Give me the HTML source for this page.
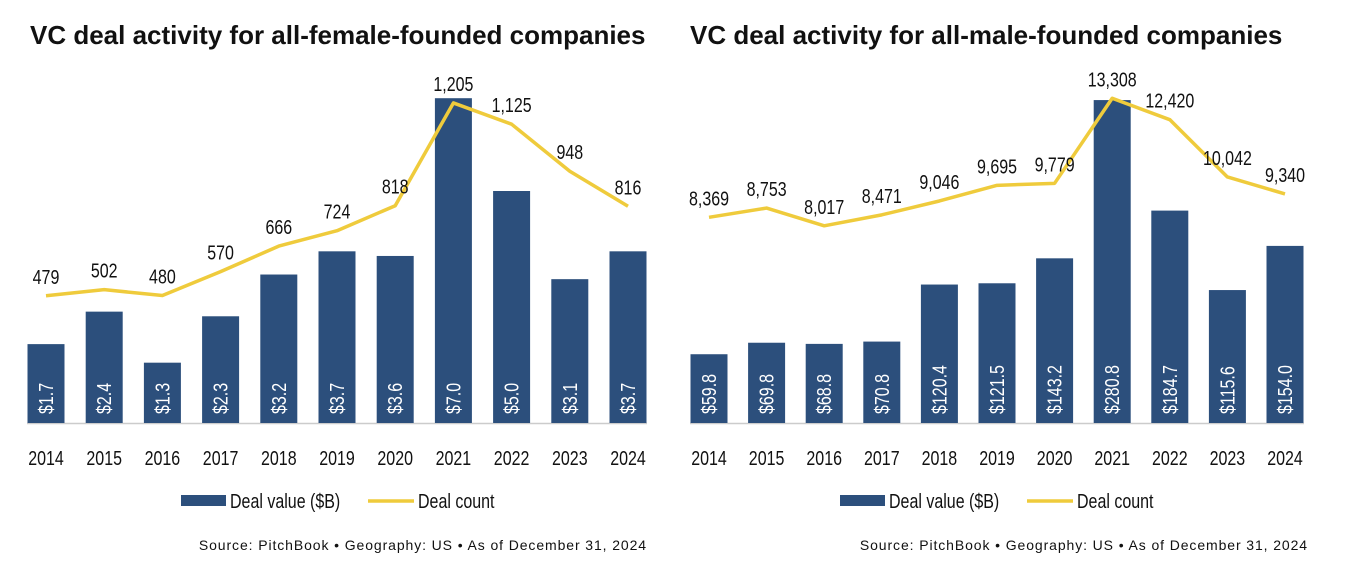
<!DOCTYPE html>
<html><head><meta charset="utf-8">
<style>
body{margin:0;background:#fff;width:1352px;height:576px;overflow:hidden}
svg{display:block}
.t{font-family:"Liberation Sans",sans-serif;font-weight:bold;font-size:26px;fill:#111}
.n{font-family:"Liberation Sans",sans-serif;font-size:20px;fill:#111}
.s{font-family:"Liberation Sans",sans-serif;font-size:14px;fill:#111;letter-spacing:0.9px}
</style></head><body>
<svg id="chart" width="1352" height="576">
<text class="t" x="30" y="44">VC deal activity for all-female-founded companies</text>
<text class="t" x="690" y="44">VC deal activity for all-male-founded companies</text>
</svg>
<script>
const years=["2014","2015","2016","2017","2018","2019","2020","2021","2022","2023","2024"];
const femaleValue=[1.7,2.4,1.3,2.3,3.2,3.7,3.6,7.0,5.0,3.1,3.7];
const femaleCount=[479,502,480,570,666,724,818,1205,1125,948,816];
const maleValue=[59.8,69.8,68.8,70.8,120.4,121.5,143.2,280.8,184.7,115.6,154.0];
const maleCount=[8369,8753,8017,8471,9046,9695,9779,13308,12420,10042,9340];
const femaleValueLabels=["$1.7","$2.4","$1.3","$2.3","$3.2","$3.7","$3.6","$7.0","$5.0","$3.1","$3.7"];
const maleValueLabels=["$59.8","$69.8","$68.8","$70.8","$120.4","$121.5","$143.2","$280.8","$184.7","$115.6","$154.0"];

const svg=document.getElementById('chart');
const NS='http://www.w3.org/2000/svg';
const SX=0.8;
function mk(tag,attrs,parent){const e=document.createElementNS(NS,tag);for(const k in attrs)e.setAttribute(k,attrs[k]);(parent||svg).appendChild(e);return e;}
function ntext(x,y,anchor,parent){return mk('text',{class:'n',x:0,y:0,'text-anchor':anchor,transform:`translate(${x},${y}) scale(${SX},1)`},parent);}

function draw(prefix,x0,step,values,vLabels,counts,barScale,lineBase,lineScale,srcRight,legX){
  const base=423;
  const g=mk('g',{});
  
  
  const xs=i=>x0+i*step;
  const yb=v=>base-v*barScale;
  const yl=v=>lineBase-v*lineScale;
  const ax=mk('line',{x1:x0-19,x2:xs(10)+19,y1:base+0.5,y2:base+0.5,stroke:'#ccc','stroke-width':1.5},g);
  
  
  values.forEach((v,i)=>{
    const r=mk('rect',{x:xs(i)-18.5,y:yb(v),width:37,height:base-yb(v),fill:'#2c4f7c'},g);
    
    
    const t=mk('text',{class:'n',x:0,y:0,'text-anchor':'start',transform:`translate(${xs(i)+7},${base-9}) rotate(-90) scale(${SX},1)`},g);
    t.style.fill='#fff';
    t.textContent=vLabels[i];
    
    
    const y=ntext(xs(i),465,'middle',g);
    y.textContent=years[i];
    
    
  });
  const pts=counts.map((c,i)=>xs(i)+','+yl(c)).join(' ');
  const pl=mk('polyline',{points:pts,fill:'none',stroke:'#efcb3c','stroke-width':3.5,'stroke-linejoin':'round'},g);
  
  
  counts.forEach((c,i)=>{
    const t=ntext(xs(i),yl(c)-12,'middle',g);
    t.textContent=c.toLocaleString('en-US');
    
    
  });
  const lr=mk('rect',{x:legX,y:495,width:45,height:11,fill:'#2c4f7c'},g);
  
  
  const lt=ntext(legX+49,508,'start',g);
  lt.textContent='Deal value ($B)';
  
  
  const ll=mk('line',{x1:legX+187,x2:legX+233,y1:501,y2:501,stroke:'#efcb3c','stroke-width':3.5},g);
  
  
  const lc=ntext(legX+237,508,'start',g);
  lc.textContent='Deal count';
  
  
  const s=mk('text',{class:'s',x:srcRight,y:550,'text-anchor':'end'},g);
  s.textContent='Source: PitchBook  •  Geography: US  •  As of December 31, 2024';
  
  
}
draw('female',46,58.2,femaleValue,femaleValueLabels,femaleCount,46.4,423,0.2656,647,181);
draw('male',709,57.6,maleValue,maleValueLabels,maleCount,1.150,419,0.0241,1308,840);
</script>
</body></html>
